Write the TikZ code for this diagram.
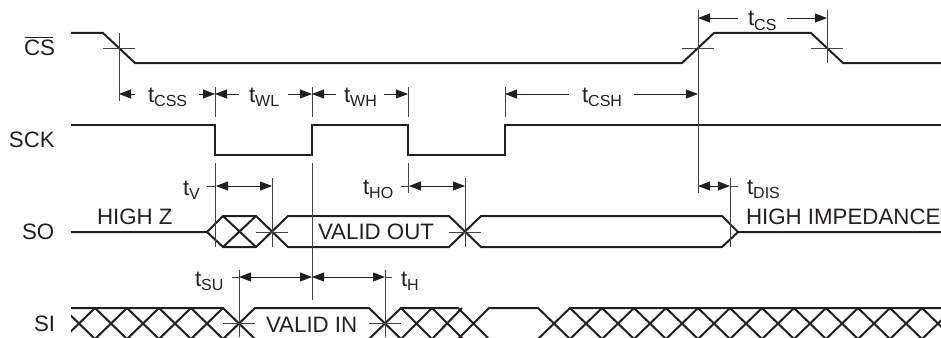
\documentclass[tikz,border=0pt]{standalone}
\usepackage{fontspec}
\setmainfont{Liberation Sans}
\usetikzlibrary{arrows.meta}
\definecolor{ink}{HTML}{231F20}
\newcommand{\tsub}[1]{t\raisebox{-4.5pt}{\fontsize{16}{16}\selectfont #1}}
\tikzset{
  sig/.style={draw=ink,line width=2pt,line join=miter},
  sigb/.style={draw=ink,line width=2.4pt,line join=miter},
  thin/.style={draw=ink!85,line width=0.8pt},
  dimL/.style={draw=ink,line width=0.8pt,{Triangle[length=12pt,width=9pt]}-},
  dimR/.style={draw=ink,line width=0.8pt,-{Triangle[length=12pt,width=9pt]}},
  txt/.style={inner sep=0pt,outer sep=0pt,anchor=base west,text=ink,font=\fontsize{22.3}{22.3}\selectfont},
}
\begin{document}
\begin{tikzpicture}[x=1pt,y=-1pt]
\useasboundingbox (0,0) rectangle (941,337);
% reference edges
\coordinate (a) at (119,0);
\coordinate (b) at (215,0);
\coordinate (c) at (312,0);
\coordinate (d) at (408,0);
\coordinate (e) at (505,0);
\coordinate (f) at (698,0);
\coordinate (g) at (827,0);
% signals
\draw[sig] (71,33) -- (103,33) -- (135,63) -- (682,63) -- (714,33) -- (811,33) -- (843,63) -- (941,63);
\draw[sigb] (71,125) -- (215,125) -- (215,155) -- (312,155) -- (312,125) -- (408,125) -- (408,155) -- (505,155) -- (505,125) -- (941,125);
% SO
\draw[sig] (71,232) -- (207,232) -- (223,216) -- (256,216) -- (288,247) -- (449,247) -- (481,216) -- (722,216) -- (738,232) -- (941,232);
\draw[sig] (207,232) -- (223,247) -- (256,247) -- (288,216) -- (449,216) -- (481,247) -- (722,247) -- (738,232);
\draw[sig] (223,216) -- (256,247) (223,247) -- (256,216);
% SI
\begin{scope}
\clip (71,300) rectangle (941,337);
\draw[sig] (71,308) -- (223,308) -- (255,339) (223,339) -- (255,308) -- (369,308) -- (401,339) (369,339) -- (401,308) -- (458,308) -- (489,339) (458,339) -- (489,308) -- (538,308) -- (570,339) (538,339) -- (570,308) -- (941,308);
\draw[sig] (401,308) -- (432,339) (432,308) -- (463,339) (401,339) -- (432,308) (432,339) -- (462,308);
\foreach \x in {63,95,127,159,191}{\draw[sig] (\x,308) -- (\x+32,339) (\x,339) -- (\x+32,308);}
\foreach \x in {570,602,...,922}{\draw[sig] (\x,308) -- (\x+32,339) (\x,339) -- (\x+32,308);}
\end{scope}
% extension lines
\draw[thin] (a|-0,33) -- (a|-0,101);
\draw[thin] (103,48) -- (135,48);
\draw[thin] (682,48) -- (714,48);
\draw[thin] (811,48) -- (843,48);
\draw[thin] (f|-0,10) -- (f|-0,193);
\draw[thin] (g|-0,10) -- (g|-0,63);
\foreach \p in {b,c,d,e}{\draw[thin] (\p|-0,87) -- (\p|-0,117);}
\draw[thin] (b|-0,163) -- (b|-0,247);
\draw[thin] (c|-0,163) -- (c|-0,300);
\draw[thin] (d|-0,163) -- (d|-0,193);
\draw[thin] (272,178) -- (272,247);
\draw[thin] (465,178) -- (465,247);
\draw[thin] (730,178) -- (730,247);
\draw[thin] (239,270) -- (239,337);
\draw[thin] (385,270) -- (385,337);
\draw[thin] (256,232) -- (288,232);
\draw[thin] (449,232) -- (481,232);
\draw[thin] (223,323) -- (255,323);
\draw[thin] (369,323) -- (401,323);
% dimension arrows
\draw[dimL] (a|-0,94) -- (135,94);
\draw[dimR] (199,94) -- (b|-0,94);
\draw[dimL] (b|-0,94) -- (239,94);
\draw[dimR] (288,94) -- (c|-0,94);
\draw[dimL] (c|-0,94) -- (336,94);
\draw[dimR] (384,94) -- (d|-0,94);
\draw[dimL] (e|-0,94) -- (569,94);
\draw[dimR] (634,94) -- (f|-0,94);
\draw[dimL] (f|-0,18) -- (738,18);
\draw[dimR] (787,18) -- (g|-0,18);
\draw[thin] (207,186) -- (216,186);
\draw[dimL] (216,186) -- (244,186);
\draw[dimR] (244,186) -- (272,186);
\draw[thin] (401,186) -- (409,186);
\draw[dimL] (409,186) -- (437,186);
\draw[dimR] (437,186) -- (465,186);
\draw[dimL] (f|-0,186) -- (714,186);
\draw[dimR] (714,186) -- (730,186);
\draw[thin] (730,186) -- (738,186);
\draw[thin] (232,277) -- (239,277);
\draw[dimL] (239,277) -- (275,277);
\draw[dimR] (275,277) -- (c|-0,277);
\draw[dimL] (c|-0,277) -- (348,277);
\draw[dimR] (348,277) -- (385,277);
\draw[thin] (385,277) -- (392,277);
% texts
\node[txt] (lcs) at (24,55.5) {CS};
\draw[draw=ink,line width=0.9pt] (25,37) -- (53,37);
\node[txt] (lsck) at (9,147.5) {SCK};
\node[txt] (lso) at (22,239) {SO};
\node[txt] (lsi) at (34,331) {SI};
\node[txt] (tcss) at (148,102) {\tsub{CSS}};
\node[txt] (twl) at (249,102) {\tsub{WL}};
\node[txt] (twh) at (344,102) {\tsub{WH}};
\node[txt] (tcsh) at (582,102) {\tsub{CSH}};
\node[txt] (tcs) at (748,26) {\tsub{CS}};
\node[txt] (tv) at (183,195) {\tsub{V}};
\node[txt] (tho) at (363,194) {\tsub{HO}};
\node[txt] (tdis) at (747,194) {\tsub{DIS}};
\node[txt] (tsu) at (195,286) {\tsub{SU}};
\node[txt] (th) at (401,286) {\tsub{H}};
\node[txt] (hz) at (97,224) {HIGH Z};
\node[txt] (himp) at (746,224) {HIGH IMPEDANCE};
\node[txt] (vo) at (318,239) {VALID OUT};
\node[txt] (vi) at (266,332) {VALID IN};
\end{tikzpicture}
\end{document}
